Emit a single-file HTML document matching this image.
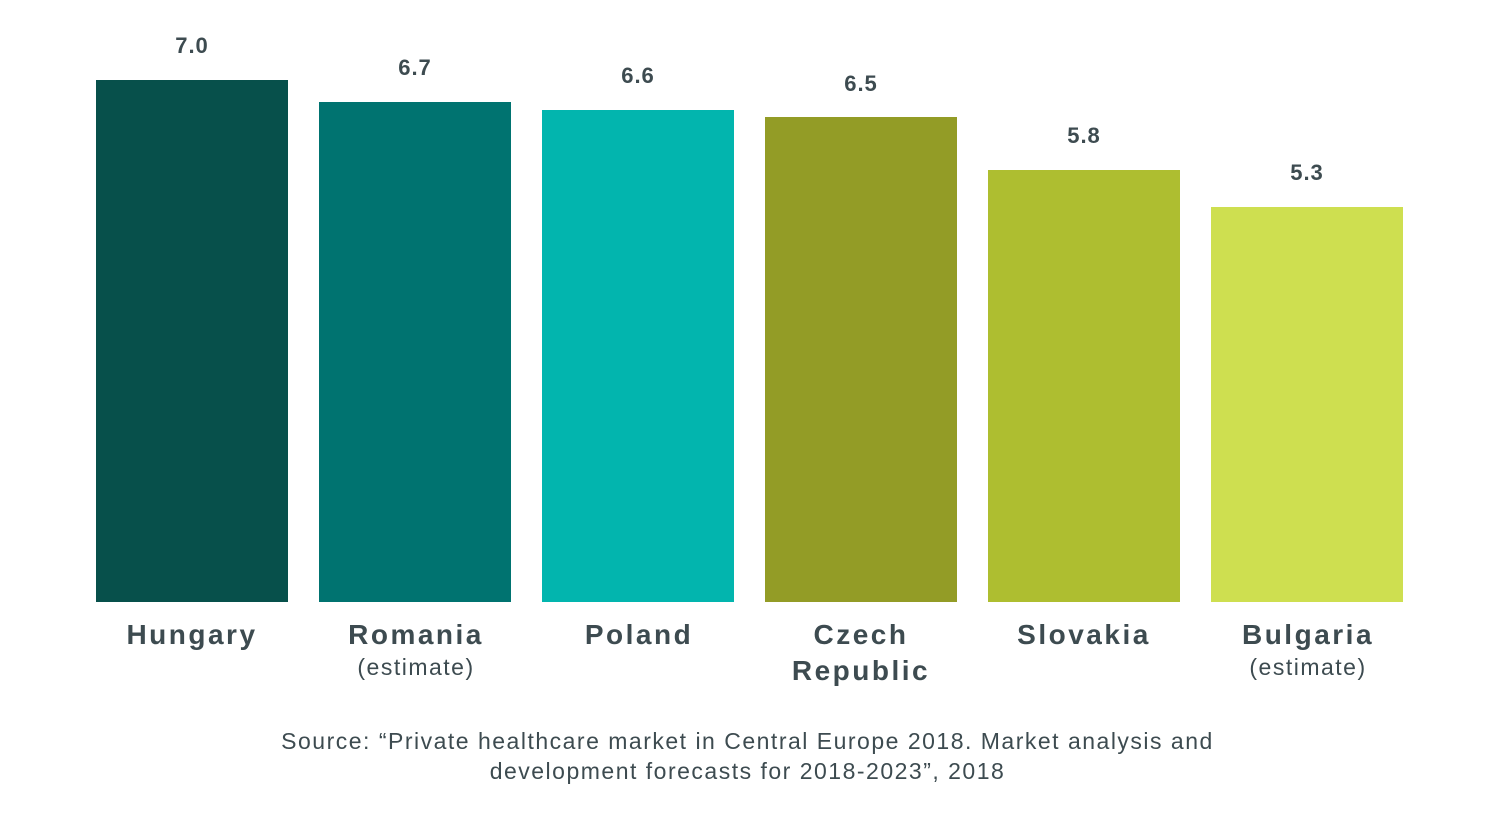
<!DOCTYPE html>
<html><head><style>
body{margin:0;width:1500px;height:835px;background:#fff;position:relative;font-family:"Liberation Sans",sans-serif;color:#3d4b50;overflow:hidden}
.b{position:absolute;width:192px;bottom:233px}
.v{position:absolute;width:192px;text-align:center;font-weight:bold;font-size:22px;line-height:22px;letter-spacing:1px}
.c{position:absolute;width:260px;text-align:center;font-weight:bold;font-size:28px;line-height:36px;top:617px;letter-spacing:2.5px}
.c span{display:block;font-weight:normal;font-size:23px;line-height:28px;letter-spacing:1.5px}
.s{position:absolute;left:0;width:1495px;top:726px;text-align:center;font-size:23px;line-height:30px;letter-spacing:1.5px}
</style></head><body>
<div class="b" style="left:96px;top:80px;background:#07504b"></div>
<div class="b" style="left:319px;top:102px;background:#007370"></div>
<div class="b" style="left:542px;top:110px;background:#02b5ae"></div>
<div class="b" style="left:765px;top:117px;background:#939c26"></div>
<div class="b" style="left:988px;top:170px;background:#aebe30"></div>
<div class="b" style="left:1211px;top:207px;background:#cedf50"></div>
<div class="v" style="left:96px;top:35px">7.0</div>
<div class="v" style="left:319px;top:57px">6.7</div>
<div class="v" style="left:542px;top:65px">6.6</div>
<div class="v" style="left:765px;top:73px">6.5</div>
<div class="v" style="left:988px;top:125px">5.8</div>
<div class="v" style="left:1211px;top:162px">5.3</div>
<div class="c" style="left:62px">Hungary</div>
<div class="c" style="left:286px">Romania<span>(estimate)</span></div>
<div class="c" style="left:509px">Poland</div>
<div class="c" style="left:731px">Czech<br>Republic</div>
<div class="c" style="left:954px">Slovakia</div>
<div class="c" style="left:1178px">Bulgaria<span>(estimate)</span></div>
<div class="s">Source: “Private healthcare market in Central Europe 2018. Market analysis and<br>development forecasts for 2018-2023”, 2018</div>
</body></html>
